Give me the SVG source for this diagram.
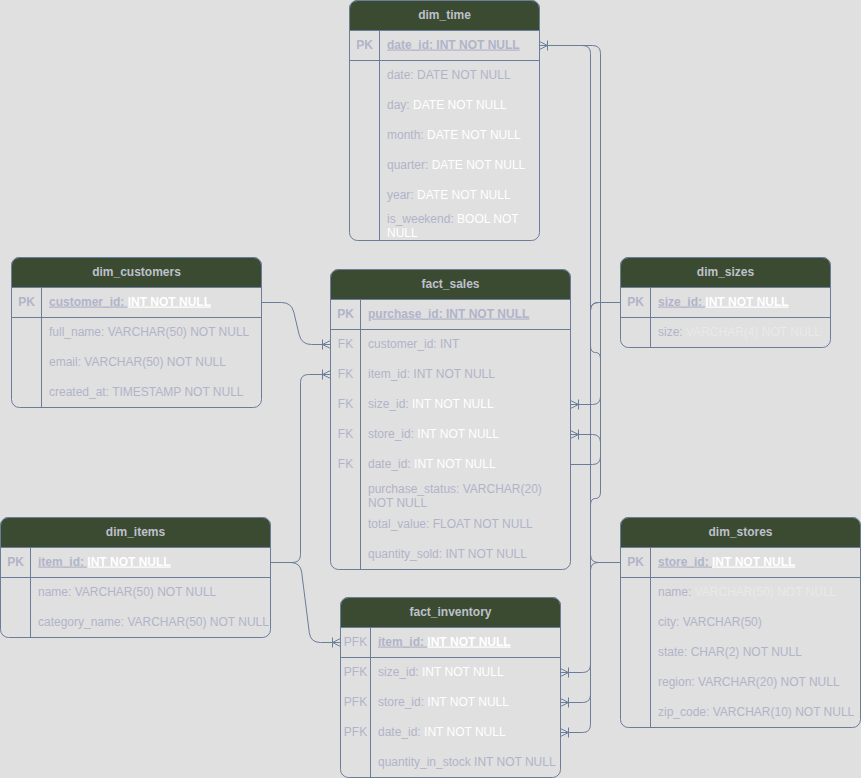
<svg xmlns="http://www.w3.org/2000/svg" width="861" height="778" viewBox="0 0 861 778">
  <style>
    .tb { fill: none; stroke: #6a7d99; stroke-width: 1; }
    .hd { fill: #3a4b31; stroke: #6a7d99; stroke-width: 1; }
    .ln { stroke: #6a7d99; stroke-width: 1; fill: none; }
    .t { font-family: "Liberation Sans", Arial, Helvetica, sans-serif; font-size: 12px; fill: #b1b4c9; }
    .h { font-weight: bold; fill: #bfc0cc; text-anchor: middle; }
    .k { text-anchor: middle; }
    .b { font-weight: bold; }
    .u { text-decoration: underline; }
    .w { fill: #ffffff; }
    .f { fill: #e9e9e9; }
    .e { fill: none; stroke: #6a7d99; stroke-width: 1; marker-end: url(#many); }
  </style>
  <defs>
    <!-- one-to-many crow's foot with bar -->
    <marker id="many" viewBox="0 0 10 12" refX="10" refY="6" markerWidth="10" markerHeight="12" markerUnits="userSpaceOnUse" orient="auto">
      <path d="M10,2 L2,6 L10,10 M2,1 V11" fill="none" stroke="#6a7d99" stroke-width="1"/>
    </marker>
  </defs>

  <rect x="0" y="0" width="861" height="778" fill="#e0e0e0"/>

  <!-- dim_time -->
  <g id="dim_time">
    <path class="hd" d="M349.5,30.5 V8.5 A8,8 0 0 1 357.5,0.5 H531.5 A8,8 0 0 1 539.5,8.5 V30.5 Z"/>
    <rect class="tb" x="349.5" y="0.5" width="190" height="240" rx="8"/>
    <path class="ln" d="M349.5,60.5 H539.5 M379.5,30.5 V240.5"/>
    <text class="t h" x="444.5" y="18.5">dim_time</text>
    <text class="t b k" x="364.5" y="48.5">PK</text>
    <text class="t b" x="387" y="48.5"><tspan class="u">date_id: INT NOT NULL</tspan></text>
    <text class="t" x="387" y="78.5">date: DATE NOT NULL</text>
    <text class="t" x="387" y="108.5">day: <tspan class="w">DATE NOT NULL</tspan></text>
    <text class="t" x="387" y="138.5">month: <tspan class="w">DATE NOT NULL</tspan></text>
    <text class="t" x="387" y="168.5">quarter: <tspan class="w">DATE NOT NULL</tspan></text>
    <text class="t" x="387" y="198.5">year: <tspan class="w">DATE NOT NULL</tspan></text>
    <text class="t" x="387" y="223">is_weekend: <tspan class="w">BOOL NOT</tspan></text>
    <text class="t w" x="387" y="236.5">NULL</text>
  </g>

  <!-- dim_customers -->
  <g id="dim_customers">
    <path class="hd" d="M11.5,287.5 V265.5 A8,8 0 0 1 19.5,257.5 H253.5 A8,8 0 0 1 261.5,265.5 V287.5 Z"/>
    <rect class="tb" x="11.5" y="257.5" width="250" height="150" rx="8"/>
    <path class="ln" d="M11.5,317.5 H261.5 M41.5,287.5 V407.5"/>
    <text class="t h" x="136.5" y="275.5">dim_customers</text>
    <text class="t b k" x="26.5" y="305.5">PK</text>
    <text class="t b" x="49" y="305.5"><tspan class="u">customer_id: </tspan><tspan class="u w">INT NOT NULL</tspan></text>
    <text class="t" x="49" y="335.5">full_name: VARCHAR(50) NOT NULL</text>
    <text class="t" x="49" y="365.5">email: VARCHAR(50) NOT NULL</text>
    <text class="t" x="49" y="395.5">created_at: TIMESTAMP NOT NULL</text>
  </g>

  <!-- fact_sales -->
  <g id="fact_sales">
    <path class="hd" d="M330.5,299.5 V277.5 A8,8 0 0 1 338.5,269.5 H562.5 A8,8 0 0 1 570.5,277.5 V299.5 Z"/>
    <rect class="tb" x="330.5" y="269.5" width="240" height="300" rx="8"/>
    <path class="ln" d="M330.5,329.5 H570.5 M360.5,299.5 V569.5"/>
    <text class="t h" x="450.5" y="287.5">fact_sales</text>
    <text class="t b k" x="345.5" y="317.5">PK</text>
    <text class="t b" x="368" y="317.5"><tspan class="u">purchase_id: INT NOT NULL</tspan></text>
    <text class="t k" x="345.5" y="347.5">FK</text>
    <text class="t" x="368" y="347.5">customer_id: INT</text>
    <text class="t k" x="345.5" y="377.5">FK</text>
    <text class="t" x="368" y="377.5">item_id: INT NOT NULL</text>
    <text class="t k" x="345.5" y="407.5">FK</text>
    <text class="t" x="368" y="407.5">size_id: <tspan class="w">INT NOT NULL</tspan></text>
    <text class="t k" x="345.5" y="437.5">FK</text>
    <text class="t" x="368" y="437.5">store_id: <tspan class="w">INT NOT NULL</tspan></text>
    <text class="t k" x="345.5" y="467.5">FK</text>
    <text class="t" x="368" y="467.5">date_id: <tspan class="w">INT NOT NULL</tspan></text>
    <text class="t" x="368" y="492.5">purchase_status: VARCHAR(20)</text>
    <text class="t" x="368" y="506.5">NOT NULL</text>
    <text class="t" x="368" y="527.5">total_value: FLOAT NOT NULL</text>
    <text class="t" x="368" y="557.5">quantity_sold: INT NOT NULL</text>
  </g>

  <!-- dim_sizes -->
  <g id="dim_sizes">
    <path class="hd" d="M620.5,287.5 V265.5 A8,8 0 0 1 628.5,257.5 H822.5 A8,8 0 0 1 830.5,265.5 V287.5 Z"/>
    <rect class="tb" x="620.5" y="257.5" width="210" height="90" rx="8"/>
    <path class="ln" d="M620.5,317.5 H830.5 M650.5,287.5 V347.5"/>
    <text class="t h" x="725.5" y="275.5">dim_sizes</text>
    <text class="t b k" x="635.5" y="305.5">PK</text>
    <text class="t b" x="658" y="305.5"><tspan class="u">size_id: </tspan><tspan class="u w">INT NOT NULL</tspan></text>
    <text class="t" x="658" y="335.5">size: <tspan class="f">VARCHAR(4) NOT NULL</tspan></text>
  </g>

  <!-- dim_items -->
  <g id="dim_items">
    <path class="hd" d="M0.5,547.5 V525.5 A8,8 0 0 1 8.5,517.5 H262.5 A8,8 0 0 1 270.5,525.5 V547.5 Z"/>
    <rect class="tb" x="0.5" y="517.5" width="270" height="120" rx="8"/>
    <path class="ln" d="M0.5,577.5 H270.5 M30.5,547.5 V637.5"/>
    <text class="t h" x="135.5" y="535.5">dim_items</text>
    <text class="t b k" x="15.5" y="565.5">PK</text>
    <text class="t b" x="38" y="565.5"><tspan class="u">item_id: </tspan><tspan class="u w">INT NOT NULL</tspan></text>
    <text class="t" x="38" y="595.5">name: VARCHAR(50) NOT NULL</text>
    <text class="t" x="38" y="625.5">category_name: VARCHAR(50) NOT NULL</text>
  </g>

  <!-- fact_inventory -->
  <g id="fact_inventory">
    <path class="hd" d="M340.5,627.5 V605.5 A8,8 0 0 1 348.5,597.5 H552.5 A8,8 0 0 1 560.5,605.5 V627.5 Z"/>
    <rect class="tb" x="340.5" y="597.5" width="220" height="180" rx="8"/>
    <path class="ln" d="M340.5,657.5 H560.5 M370.5,627.5 V777.5"/>
    <text class="t h" x="450.5" y="615.5">fact_inventory</text>
    <text class="t k" x="355.5" y="645.5">PFK</text>
    <text class="t b" x="378" y="645.5"><tspan class="u">item_id: </tspan><tspan class="u w">INT NOT NULL</tspan></text>
    <text class="t k" x="355.5" y="675.5">PFK</text>
    <text class="t" x="378" y="675.5">size_id: <tspan class="w">INT NOT NULL</tspan></text>
    <text class="t k" x="355.5" y="705.5">PFK</text>
    <text class="t" x="378" y="705.5">store_id: <tspan class="w">INT NOT NULL</tspan></text>
    <text class="t k" x="355.5" y="735.5">PFK</text>
    <text class="t" x="378" y="735.5">date_id: <tspan class="w">INT NOT NULL</tspan></text>
    <text class="t" x="378" y="765.5">quantity_in_stock INT NOT NULL</text>
  </g>

  <!-- dim_stores -->
  <g id="dim_stores">
    <path class="hd" d="M620.5,547.5 V525.5 A8,8 0 0 1 628.5,517.5 H852.5 A8,8 0 0 1 860.5,525.5 V547.5 Z"/>
    <rect class="tb" x="620.5" y="517.5" width="240" height="210" rx="8"/>
    <path class="ln" d="M620.5,577.5 H860.5 M650.5,547.5 V727.5"/>
    <text class="t h" x="740.5" y="535.5">dim_stores</text>
    <text class="t b k" x="635.5" y="565.5">PK</text>
    <text class="t b" x="658" y="565.5"><tspan class="u">store_id: </tspan><tspan class="u w">INT NOT NULL</tspan></text>
    <text class="t" x="658" y="595.5">name: <tspan class="f">VARCHAR(50) NOT NULL</tspan></text>
    <text class="t" x="658" y="625.5">city: VARCHAR(50)</text>
    <text class="t" x="658" y="655.5">state: CHAR(2) NOT NULL</text>
    <text class="t" x="658" y="685.5">region: VARCHAR(20) NOT NULL</text>
    <text class="t" x="658" y="715.5">zip_code: VARCHAR(10) NOT NULL</text>
  </g>

  <!-- relationships -->
  <g id="connectors">
    <path id="customers-sales" class="e" d="M261.5,302.5 H281.5 Q291.5,302.5 293.8,312.2 L299.2,334.8 Q301.5,344.5 311.5,344.5 H330.5"/>
    <path id="items-sales" class="e" d="M270.5,562.5 H292.5 Q300.5,562.5 300.5,554.5 V382.5 Q300.5,374.5 308.5,374.5 H330.5"/>
    <path id="items-inventory" class="e" d="M270.5,562.5 H290.5 Q300.5,562.5 301.7,572.4 L309.3,632.6 Q310.5,642.5 320.5,642.5 H340.5"/>
    <path id="sizes-sales" class="e" d="M620.5,302.5 H598.5 Q590.5,302.5 590.5,310.5 V346 Q590.5,352.5 595.5,352.5 Q600.5,352.5 600.5,359 V396.5 Q600.5,404.5 592.5,404.5 H570.5"/>
    <path id="stores-sales" class="e" d="M620.5,562.5 H598.5 Q590.5,562.5 590.5,554.5 V505 Q590.5,498.5 595.5,498.5 Q600.5,498.5 600.5,492 V442.5 Q600.5,434.5 592.5,434.5 H570.5"/>
    <path id="sales-time" class="e" d="M570.5,464.5 H592.5 Q600.5,464.5 600.5,456.5 V53.5 Q600.5,45.5 592.5,45.5 H539.5"/>
    <path id="sizes-inventory" class="e" d="M620.5,302.5 H598.5 Q590.5,302.5 590.5,310.5 V664.5 Q590.5,672.5 582.5,672.5 H560.5"/>
    <path id="stores-inventory" class="e" d="M620.5,562.5 H598.5 Q590.5,562.5 590.5,570.5 V694.5 Q590.5,702.5 582.5,702.5 H560.5"/>
    <path id="time-inventory" class="e" d="M539.5,45.5 H582.5 Q590.5,45.5 590.5,53.5 V724.5 Q590.5,732.5 582.5,732.5 H560.5"/>
  </g>
</svg>
